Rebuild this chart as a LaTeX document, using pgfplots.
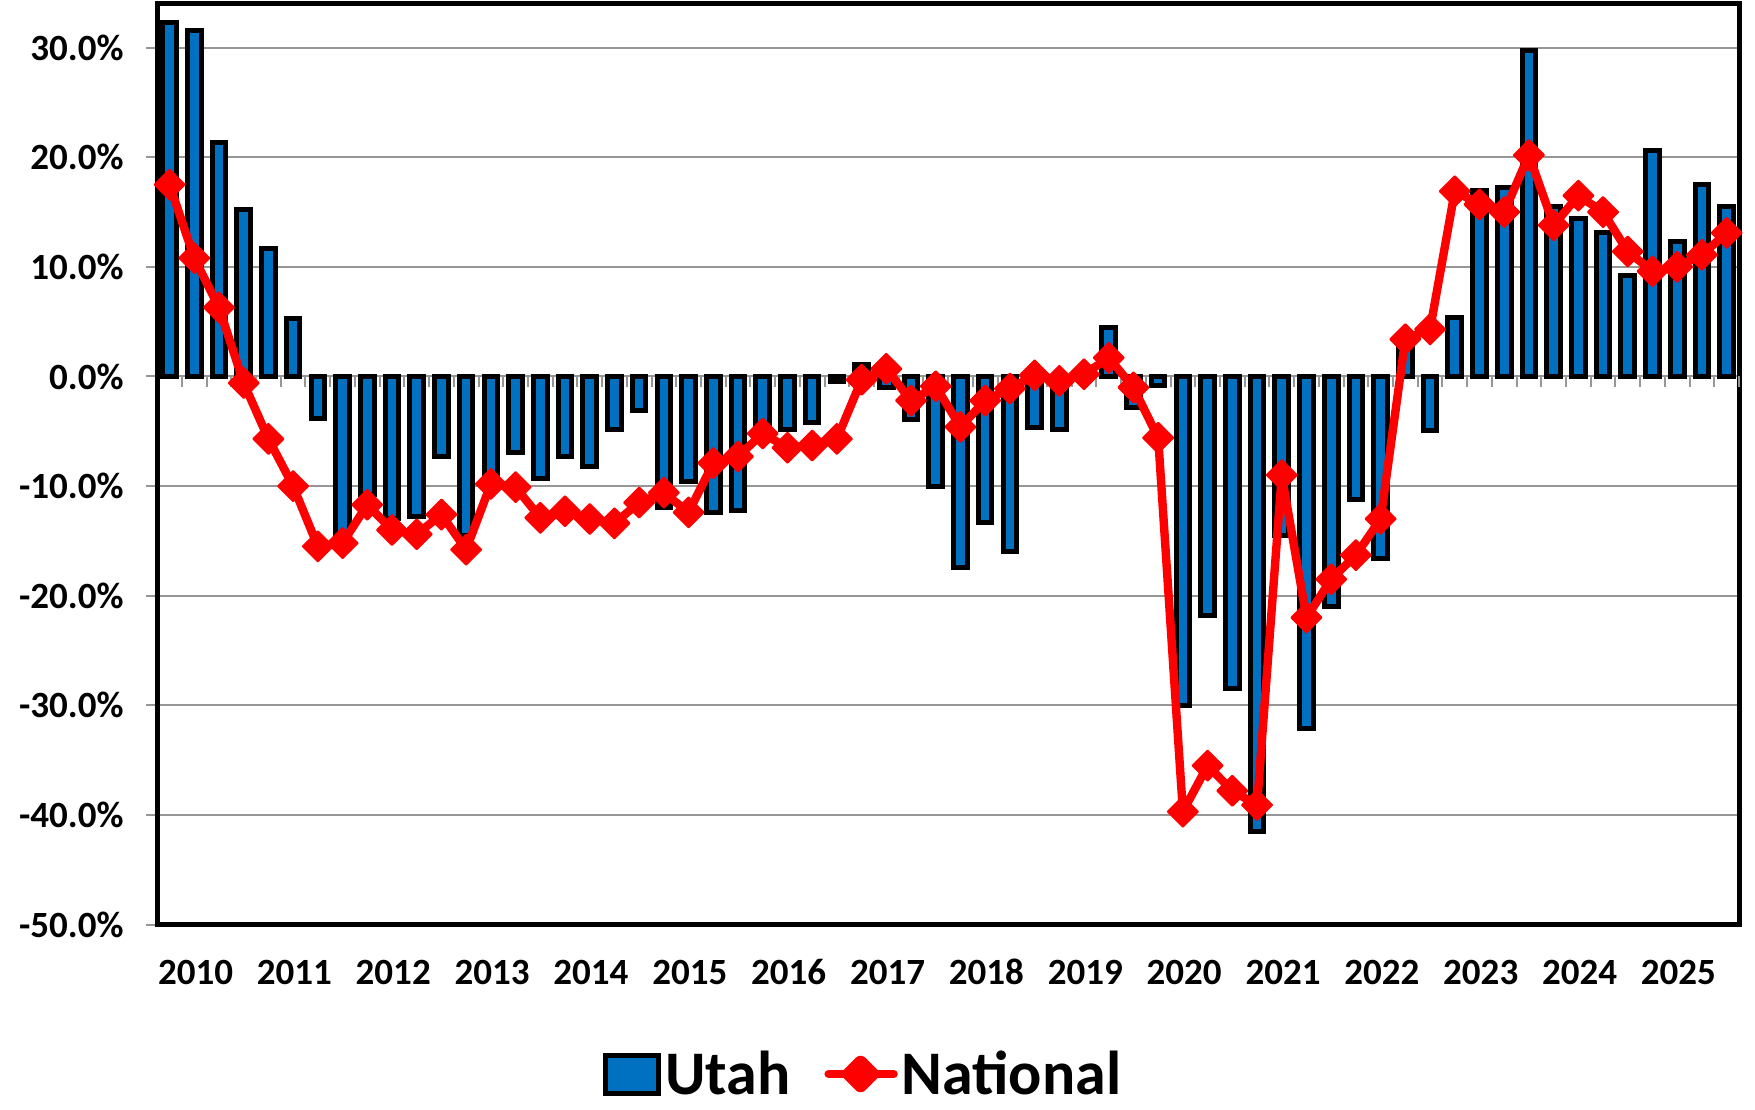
\documentclass[border=0pt]{standalone}
\usepackage{fontspec}
\setmainfont{Carlito}
\usepackage{pgfplots}
\usepackage{pgfplotstable}
\pgfplotsset{compat=1.18}
\definecolor{utahblue}{HTML}{0070C0}
\definecolor{gridgray}{HTML}{969696}

% quarterly growth, 2010 Q1 = 0 ... 2025 Q4 = 63
\pgfplotstableread{
q  utah   national
0  32.3   17.5
1  31.6   10.8
2  21.3    6.3
3  15.2   -0.6
4  11.7   -5.7
5   5.3  -10.0
6  -3.8  -15.5
7 -15.0  -15.2
8 -10.8  -11.7
9 -13.0  -14.0
10 -12.8 -14.4
11  -7.3 -12.6
12 -14.5 -15.8
13  -9.5  -9.8
14  -6.9 -10.1
15  -9.3 -12.9
16  -7.3 -12.3
17  -8.2 -13.0
18  -4.8 -13.4
19  -3.1 -11.5
20 -12.0 -10.6
21  -9.6 -12.4
22 -12.4  -7.9
23 -12.2  -7.3
24  -4.9  -5.2
25  -4.8  -6.5
26  -4.2  -6.3
27  -0.5  -5.7
28   1.1  -0.3
29  -1.0   0.7
30  -3.9  -2.2
31 -10.0  -0.9
32 -17.4  -4.6
33 -13.3  -2.2
34 -16.0  -1.1
35  -4.7   0.1
36  -4.8  -0.4
37   0.3   0.2
38   4.5   1.7
39  -2.8  -1.0
40  -0.8  -5.6
41 -30.0 -39.7
42 -21.8 -35.5
43 -28.5 -37.8
44 -41.5 -39.1
45 -14.5  -9.0
46 -32.1 -22.0
47 -21.0 -18.5
48 -11.2 -16.3
49 -16.6 -13.0
50   3.5   3.4
51  -4.9   4.3
52   5.4  16.9
53  17.0  15.7
54  17.2  15.0
55  29.7  20.2
56  15.5  13.8
57  14.4  16.5
58  13.1  15.0
59   9.2  11.4
60  20.6   9.6
61  12.3  10.0
62  17.5  11.1
63  15.5  13.1
}\growth

\begin{document}
\begin{tikzpicture}
\useasboundingbox (-78.6pt,-92.25pt) rectangle (798.9pt,462.25pt);
\begin{axis}[
  at={(0pt,0pt)}, anchor=south west,
  scale only axis, width=790.9pt, height=460.35pt,
  xmin=-0.5, xmax=63.5, ymin=-50, ymax=34,
  ytick={-50,-40,...,30},
  yticklabels={-50.0\%,-40.0\%,-30.0\%,-20.0\%,-10.0\%,0.0\%,10.0\%,20.0\%,30.0\%},
  xtick={1.05,5.05,...,61.05},
  xticklabels={2010,2011,2012,2013,2014,2015,2016,2017,2018,2019,2020,2021,2022,2023,2024,2025},
  ytick pos=left,
  ymajorgrids, grid style={gridgray, line width=1pt},
  axis line style={black, line width=2.5pt},
  tick align=outside, major tick length=5.5pt,
  ytick style={gridgray, line width=1pt},
  xtick style={draw=none},
  ticklabel style={font=\fontsize{18.5}{18.5}\selectfont\bfseries},
  yticklabel style={xshift=-7.8pt},
  xticklabel style={text height=11.7pt, text depth=0pt, yshift=-9.3pt},
  clip=false,
  legend columns=2,
  legend style={at={(0.4470,-0.1624)}, anchor=center, draw=none, fill=none,
    font=\fontsize{31}{31}\selectfont\bfseries,
    nodes={inner sep=2pt},
    /tikz/every even column/.append style={column sep=15pt}},
]
% category boundary ticks on the zero line
\pgfplotsinvokeforeach{0,...,63}{
  \draw[gridgray, line width=1pt] (axis cs:#1+0.5,0) -- ++(0pt,-5.3pt);
}
\addplot[ybar, bar width=0.55, fill=utahblue, draw=black, line width=2.5pt,
  legend image code/.code={\draw[fill=utahblue, draw=black, line width=2.5pt]
    (0pt,-9.5pt) rectangle (26.5pt,9.5pt);}]
  table[x=q, y=utah] {\growth};
\addlegendentry{Utah}
\addplot[red, line width=4.2pt, line join=round,
  mark=square*, mark size=5.3pt,
  mark options={rotate=45, fill=red, draw=red, line width=1pt, line join=round},
  legend image code/.code={
    \draw[red, line width=4.2pt, line cap=round] (0pt,0pt) -- (32.5pt,0pt);
    \fill[red, rounded corners=1pt] (16pt,-7.5pt) -- (23.5pt,0pt) -- (16pt,7.5pt) -- (8.5pt,0pt) -- cycle;}]
  table[x=q, y=national] {\growth};
\addlegendentry{National}
\end{axis}
\end{tikzpicture}
\end{document}
